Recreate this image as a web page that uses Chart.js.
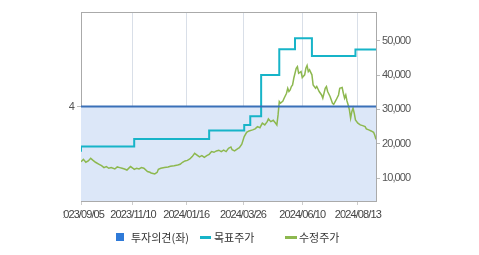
<!DOCTYPE html>
<html>
<head>
<meta charset="utf-8">
<script src="https://cdn.jsdelivr.net/npm/chart.js@4"></script>
<style>
  html, body { margin: 0; padding: 0; background: #fff; }
  #caixa { position: relative; width: 479px; height: 255px; }
  #legenda { position: absolute; left: 0; top: 229px; width: 479px; height: 16px;
             font: 11px 'Noto Sans CJK KR', sans-serif; color: #333; }
  #legenda span { position: absolute; top: 0; line-height: 16px; white-space: nowrap; }
  #legenda i { position: absolute; display: block; }
</style>
</head>
<body>
<div id="caixa">
  <canvas id="myChart" width="479" height="255"></canvas>
  <div id="legenda">
    <i style="left:116px; top:4px; width:8px; height:8px; background:#2f7ad8"></i>
    <span style="left:131px">투자의견(좌)</span>
    <i style="left:200px; top:7px; width:11px; height:3px; background:#17b4c8"></i>
    <span style="left:214px">목표주가</span>
    <i style="left:285px; top:7px; width:12px; height:3px; background:#8db84f"></i>
    <span style="left:299px">수정주가</span>
  </div>
</div>
<script>
// eixo x = dias de pregao desde 2023/09/05
const tickDays = [0, 43, 87, 134, 183, 229];
const tickLabels = ['2023/09/05', '2023/11/10', '2024/01/16', '2024/03/26', '2024/06/10', '2024/08/13'];
const lastDay = 244;

// 투자의견 (escala da esquerda)
const opinionDays = [0, 244];
const opinion = [4, 4];

// 목표주가
const targetDays = [0, 44, 106, 135, 140, 149, 164, 177, 191, 227, 242, 244];
const target = [17700, 19200, 21400, 23900, 25500, 28000, 40000, 47500, 50700, 45500, 47400, 47400];

// 수정주가
const priceDays = [0, 2, 4, 6, 8, 10, 12, 15, 17, 19, 21, 23, 25, 28, 30, 32, 34, 36, 38, 40,
    41, 43, 44, 46, 48, 50, 52, 55, 57, 58, 61, 63, 64, 66, 69, 72, 74, 77, 80, 82,
    84, 86, 88, 90, 92, 94, 96, 98, 100, 102, 104, 106, 108, 110, 112, 114, 116, 118, 120, 122,
    124, 125, 127, 130, 131, 133, 135, 137, 139, 142, 144, 146, 148, 150, 152, 154, 155, 157, 159, 161,
    162, 163, 164, 165, 167, 168, 170, 171, 172, 173, 174, 175, 176, 178, 179, 180, 182, 183, 185, 186,
    187, 188, 189, 191, 192, 194, 195, 197, 199, 200, 202, 203, 204, 206, 208, 209, 211, 213, 214, 216,
    217, 218, 219, 220, 221, 222, 223, 224, 225, 226, 227, 229, 231, 233, 235, 236, 238, 240, 242, 243, 244];
const price = [14800, 15500, 14650, 15050, 15800, 15200, 14650, 14050, 13650, 13100, 13400, 12900, 13100, 12700, 13300, 13100, 12900, 12700, 12400, 13100,
    13400, 12900, 12600, 12900, 12700, 13100, 12900, 11950, 11750, 11550, 11250, 11750, 12600, 12900, 13100, 13300, 13500, 13650, 13850, 14050,
    14650, 15050, 15200, 15600, 16300, 17250, 16750, 16200, 16600, 16100, 16600, 16950, 17750, 17550, 17950, 18150, 17750, 18150, 17750, 18700,
    19100, 18300, 17950, 18700, 18900, 19900, 22100, 23350, 23750, 24050, 24350, 25000, 24700, 26000, 25500, 26450, 27250, 26450, 26850, 26000,
    25500, 28400, 32300, 31800, 32450, 33250, 34700, 36150, 35200, 35650, 36650, 37100, 39050, 41950, 42450, 40500, 41000, 39250, 40050, 41950,
    42750, 41000, 41500, 40050, 37100, 36150, 36650, 35200, 34200, 33250, 36150, 36650, 35200, 33750, 31800, 31500, 32750, 34200, 36150, 36350,
    34700, 33250, 34200, 32450, 31300, 29850, 27450, 29350, 30350, 28900, 26950, 26000, 25500, 25300, 25000, 24350, 24050, 23750, 23350, 22500, 21300];

const rightTicks = [10000, 20000, 30000, 40000, 50000];

function pontos(dias, valores){
    return dias.map(function(d, i){ return {x: d, y: valores[i]}; });
}

Chart.defaults.font.family = "'Liberation Sans', 'Noto Sans CJK KR', sans-serif";
Chart.defaults.font.size = 11;
Chart.defaults.color = '#555';

// moldura de cima + corte do primeiro rotulo + numeros mais apertados
const moldura = {
    id: 'moldura',
    beforeDraw: function(chart){
        const a = chart.chartArea;
        chart.ctx.save();
        chart.ctx.letterSpacing = '-0.9px';
        chart.ctx.beginPath();
        chart.ctx.rect(a.left - 18, 0, chart.width, chart.height);
        chart.ctx.clip();
    },
    afterDraw: function(chart){
        const a = chart.chartArea;
        const c = chart.ctx;
        c.strokeStyle = '#aaa';
        c.lineWidth = 1;
        c.beginPath();
        c.moveTo(a.left, a.top + 0.5);
        c.lineTo(a.right, a.top + 0.5);
        c.stroke();
        c.restore();
    }
};

var ctx = document.getElementById('myChart').getContext('2d');

var myChart = new Chart(ctx, {
    type: 'line',
    data: {
        datasets: [{
            label: '투자의견(좌)',
            data: pontos(opinionDays, opinion),
            yAxisID: 'y1',
            borderColor: '#3a70b8',
            borderWidth: 2,
            backgroundColor: '#dce7f8',
            fill: 'origin',
            pointRadius: 0
        }, {
            label: '목표주가',
            data: pontos(targetDays, target),
            yAxisID: 'y',
            borderColor: '#17b4c8',
            borderWidth: 2,
            stepped: 'after',
            fill: false,
            pointRadius: 0
        }, {
            label: '수정주가',
            data: pontos(priceDays, price),
            yAxisID: 'y',
            borderColor: '#8db84f',
            borderWidth: 1.5,
            fill: false,
            pointRadius: 0
        }]
    },
    options: {
        responsive: false,
        animation: false,
        devicePixelRatio: 1,
        layout: { padding: { top: 12, left: 0, right: 0, bottom: 35 } },
        plugins: {
            filler: { drawTime: 'beforeDatasetsDraw' },
            tooltip: { enabled: false },
            legend: { display: false }
        },
        scales: {
            x: {
                type: 'linear',
                min: 0,
                max: lastDay,
                afterBuildTicks: function(scale){
                    scale.ticks = tickDays.map(function(d){ return {value: d}; });
                },
                afterFit: function(scale){ scale.height = 19; },
                ticks: {
                    maxRotation: 0,
                    autoSkip: false,
                    padding: 3,
                    color: '#444',
                    callback: function(v){ return tickLabels[tickDays.indexOf(v)]; }
                },
                grid: { color: '#d9dfe8', tickColor: '#ccc', tickLength: 4 },
                border: { color: '#aaa' }
            },
            y1: {
                position: 'left',
                min: 0,
                max: 8,
                afterBuildTicks: function(scale){ scale.ticks = [{value: 4}]; },
                afterFit: function(scale){ scale.width = 81; },
                ticks: { padding: 3 },
                grid: { drawOnChartArea: false, tickColor: '#bbb', tickLength: 4 },
                border: { color: '#aaa' }
            },
            y: {
                position: 'right',
                min: 3400,
                max: 58300,
                afterBuildTicks: function(scale){
                    scale.ticks = rightTicks.map(function(v){ return {value: v}; });
                },
                afterFit: function(scale){ scale.width = 103; },
                ticks: {
                    padding: 2,
                    callback: function(v){ return v.toLocaleString('en-US'); }
                },
                grid: { drawOnChartArea: false, tickColor: '#bbb', tickLength: 4 },
                border: { color: '#aaa' }
            }
        }
    },
    plugins: [moldura]
});
</script>
</body>
</html>
